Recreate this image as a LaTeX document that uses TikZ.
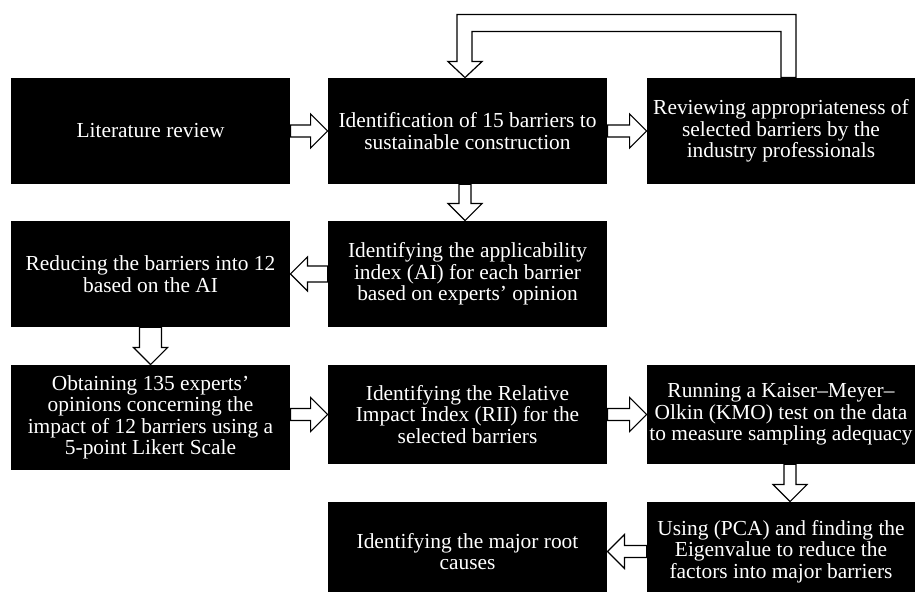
\documentclass[tikz,border=0pt]{standalone}
\usepackage{fontspec}
\setmainfont{Liberation Serif}
\usepackage{tikz}
\usetikzlibrary{positioning,calc}
\tikzset{
  stage/.style={
    fill=black, text=white, align=center, inner sep=0pt,
    minimum width=139.5pt, minimum height=53pt,
    font=\fontsize{10.7pt}{10.75pt}\selectfont,
  },
  lowstage/.style={stage, minimum height=49.5pt},
  edgestage/.style={minimum width=134pt},
  hollowarrow/.style={draw=black, fill=white, line width=0.6pt, line join=miter},
}
% block arrow from #2 to #3, #1 = half width of the shaft
\newcommand{\blockarrow}[3][3pt]{%
  \coordinate (hs) at (#2);
  \coordinate (he) at (#3);
  \coordinate (hb) at ($(he)!8.5pt!(hs)$);
  \draw[hollowarrow] ($(hs)!#1!90:(he)$) -- ($(hb)!#1!-90:(hs)$)
    -- ($(hb)!8.5pt!-90:(hs)$) -- (he) -- ($(hb)!8.5pt!90:(hs)$)
    -- ($(hb)!#1!90:(hs)$) -- ($(hs)!#1!-90:(he)$) -- cycle;}
\begin{document}
\begin{tikzpicture}[x=0.5pt, y=-0.5pt]
\useasboundingbox (0,0) rectangle (915,592);

% ------------------------------------------------------------- stages
\node[stage] (lit)    at (150.5,131) {Literature review};
\node[stage] (ident)  at (467.5,131) {Identification of 15 barriers to\\sustainable construction};
\node[stage, edgestage] (review) at (781,131) {Reviewing appropriateness of\\selected barriers by the\\industry professionals};
\node[stage] (ai)     at (467.5,274) {Identifying the applicability\\index (AI) for each barrier\\based on experts' opinion};
\node[stage] (reduce) at (150.5,274) {Reducing the barriers into 12\\based on the AI};
\node[stage, minimum height=52.5pt] (survey) at (150.5,417.5)
  {Obtaining 135 experts'\\opinions concerning the\\impact of 12 barriers using a\\5-point Likert Scale};
\node[lowstage] (rii)   at (467.5,414.5) {Identifying the Relative\\Impact Index (RII) for the\\selected barriers};
\node[lowstage, edgestage] (kmo) at (781,414.5) {Running a Kaiser--Meyer--\\Olkin (KMO) test on the data\\to measure sampling adequacy};
\node[lowstage, edgestage] (pca) at (781,551.5) {Using (PCA) and finding the\\Eigenvalue to reduce the\\factors into major barriers};
\node[lowstage] (roots) at (467.5,551.5) {Identifying the major root\\causes};

% ------------------------------------------------------------- flow
\blockarrow{lit.east}{ident.west}
\blockarrow{ident.east}{review.west}
\blockarrow{[xshift=-1.25pt]ident.south}{[xshift=-1.25pt]ai.north}
\blockarrow[4pt]{ai.west}{reduce.east}
\blockarrow[5.5pt]{reduce.south}{survey.north}
\blockarrow{survey.east |- rii.west}{rii.west}
\blockarrow{rii.east}{kmo.west}
\blockarrow{[xshift=4.5pt]kmo.south}{[xshift=4.5pt]pca.north}
\blockarrow{pca.west}{roots.east}

% ---- feedback from the professionals back to the barrier list
\draw[hollowarrow] let \p1=(review.north), \p2=(ident.north) in
  (\x1,\y1) -- (\x1,\y1+23pt) -- (\x2+2.25pt,\y1+23pt)
  -- (\x2+2.25pt,\y2+8pt) -- (\x2+7.25pt,\y2+8pt) -- (\x2-1.25pt,\y2)
  -- (\x2-9.75pt,\y2+8pt) -- (\x2-5.25pt,\y2+8pt) -- (\x2-5.25pt,\y1+31.5pt)
  -- (\x1+7.5pt,\y1+31.5pt) -- (\x1+7.5pt,\y1) -- cycle;

\end{tikzpicture}
\end{document}
